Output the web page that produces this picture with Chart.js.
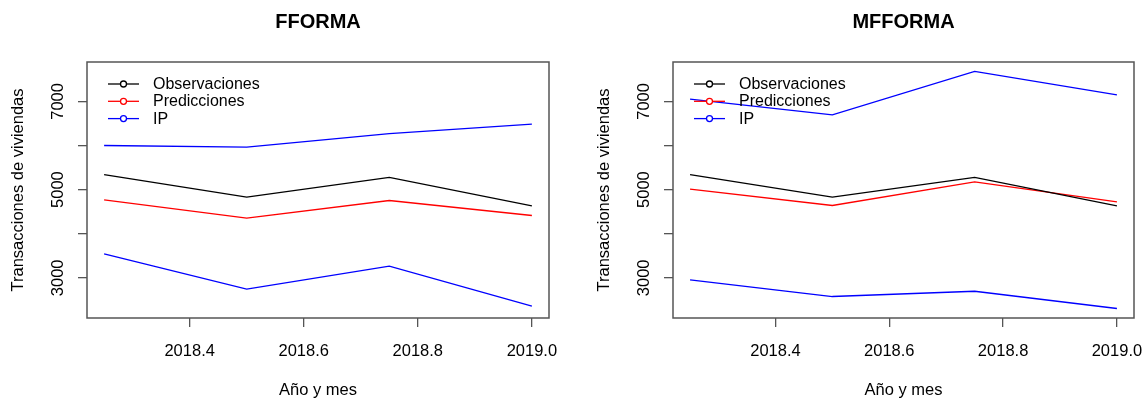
<!DOCTYPE html>
<html>
<head>
<meta charset="utf-8">
<script src="https://cdn.jsdelivr.net/npm/chart.js@4.4.1/dist/chart.umd.min.js"></script>
<style>
  html, body { margin: 0; padding: 0; background: #ffffff; }
  #wrap { position: relative; width: 1144px; height: 398px; overflow: hidden; }
  .panel { position: absolute; top: 0; width: 572px; height: 398px; }
  canvas { display: block; }
</style>
</head>
<body>
<div id="wrap">
  <div class="panel" style="left:0"><canvas id="fforma" width="572" height="398"></canvas></div>
  <div class="panel" style="left:572px"><canvas id="mfforma" width="572" height="398"></canvas></div>
</div>
<script>
// Quarterly periods (year fraction) and observed transactions
const periods = [2018.25, 2018.5, 2018.75, 2019.0];
const observaciones = [5342, 4830, 5275, 4633];

// FFORMA forecasts and prediction interval
const fformaPred = [4769, 4354, 4753, 4413];
const fformaLow = [3544, 2744, 3265, 2358];
const fformaHigh = [6000, 5964, 6268, 6485];

// MFFORMA forecasts and prediction interval
const mfformaPred = [5011, 4640, 5175, 4720];
const mfformaLow = [2955, 2576, 2695, 2304];
const mfformaHigh = [7050, 6696, 7678, 7150];

// Axis ticks
const xTicks = [2018.4, 2018.6, 2018.8, 2019.0];
const yTicks = [3000, 4000, 5000, 6000, 7000];
const yLabelled = [3000, 5000, 7000];

const FONT = "'Liberation Sans', Arial, Helvetica, sans-serif";
const AXIS_COLOR = '#555555';

// Shared limits, padded by 4% like R's default axis extension
const allValues = [].concat(observaciones, fformaPred, fformaLow, fformaHigh,
                            mfformaPred, mfformaLow, mfformaHigh);
const vMin = Math.min(...allValues), vMax = Math.max(...allValues);
const yMin = vMin - 0.04 * (vMax - vMin);
const yMax = vMax + 0.04 * (vMax - vMin);
const pMin = Math.min(...periods), pMax = Math.max(...periods);
const xMin = pMin - 0.04 * (pMax - pMin);
const xMax = pMax + 0.04 * (pMax - pMin);

const toPoints = vals => periods.map((p, i) => ({ x: p, y: vals[i] }));

function lineSet(label, values, color) {
  return {
    label: label,
    data: toPoints(values),
    borderColor: color,
    backgroundColor: color,
    borderWidth: 1.3,
    pointRadius: 0,
    pointHoverRadius: 0,
    tension: 0,
    fill: false
  };
}

// Panel frame
const frame = {
  id: 'frame',
  afterDraw(chart) {
    const { ctx, chartArea: a } = chart;
    ctx.save();
    ctx.strokeStyle = AXIS_COLOR;
    ctx.lineWidth = 1.5;
    ctx.strokeRect(a.left, a.top, a.right - a.left, a.bottom - a.top);
    ctx.restore();
  }
};

// Panel heading, centred over the plotting area
const heading = {
  id: 'heading',
  afterDraw(chart, args, opts) {
    const { ctx, chartArea: a } = chart;
    ctx.save();
    ctx.font = 'bold 20px ' + FONT;
    ctx.fillStyle = '#000';
    ctx.textAlign = 'center';
    ctx.textBaseline = 'middle';
    ctx.fillText(opts.text, (a.left + a.right) / 2, 22.4);
    ctx.restore();
  }
};

// Borderless legend inside the top-left corner of the plot
const insetLegend = {
  id: 'insetLegend',
  afterDatasetsDraw(chart) {
    const { ctx, chartArea: a } = chart;
    const seen = new Set();
    const items = [];
    chart.data.datasets.forEach(ds => {
      if (!seen.has(ds.label)) { seen.add(ds.label); items.push(ds); }
    });
    ctx.save();
    ctx.font = '16px ' + FONT;
    ctx.textBaseline = 'middle';
    ctx.textAlign = 'left';
    items.forEach((ds, i) => {
      const y = a.top + 22 + i * 17.3;
      ctx.strokeStyle = ds.borderColor;
      ctx.lineWidth = 1.3;
      ctx.beginPath();
      ctx.moveTo(a.left + 21, y);
      ctx.lineTo(a.left + 52, y);
      ctx.stroke();
      ctx.beginPath();
      ctx.arc(a.left + 36.5, y, 3, 0, Math.PI * 2);
      ctx.fillStyle = '#fff';
      ctx.fill();
      ctx.stroke();
      ctx.fillStyle = '#000';
      ctx.fillText(ds.label, a.left + 66, y + 0.5);
    });
    ctx.restore();
  }
};

function makePanel(canvasId, title, pred, low, high, padLeft, padRight) {
  return new Chart(document.getElementById(canvasId), {
    type: 'line',
    data: {
      datasets: [
        lineSet('Observaciones', observaciones, '#000000'),
        lineSet('Predicciones', pred, '#ff0000'),
        lineSet('IP', low, '#0000ff'),
        lineSet('IP', high, '#0000ff')
      ]
    },
    options: {
      responsive: false,
      devicePixelRatio: 1,
      animation: false,
      events: [],
      layout: { padding: { top: 62, left: padLeft, right: padRight, bottom: 0 } },
      plugins: {
        legend: { display: false },
        tooltip: { enabled: false },
        heading: { text: title }
      },
      scales: {
        x: {
          type: 'linear',
          position: 'bottom',
          min: xMin,
          max: xMax,
          afterBuildTicks: s => { s.ticks = xTicks.map(v => ({ value: v })); },
          afterFit: s => { s.height = 80; s.paddingLeft = 0; s.paddingRight = 0; },
          grid: { drawOnChartArea: false, drawTicks: true, tickLength: 9, color: AXIS_COLOR, lineWidth: 1.3 },
          border: { display: false },
          ticks: {
            autoSkip: false,
            maxRotation: 0,
            minRotation: 0,
            padding: 14.5,
            color: '#000',
            font: { family: FONT, size: 16.5 },
            callback: v => Number(v).toFixed(1)
          },
          title: {
            display: true,
            text: 'Año y mes',
            color: '#000',
            font: { family: FONT, size: 16.5, lineHeight: 1 },
            padding: { top: 0, bottom: -1 }
          }
        },
        y: {
          type: 'linear',
          position: 'left',
          min: yMin,
          max: yMax,
          afterBuildTicks: s => { s.ticks = yTicks.map(v => ({ value: v })); },
          afterFit: s => { s.width = 87; s.paddingTop = 0; s.paddingBottom = 0; },
          grid: { drawOnChartArea: false, drawTicks: true, tickLength: 9, color: AXIS_COLOR, lineWidth: 1.3 },
          border: { display: false },
          ticks: {
            autoSkip: false,
            minRotation: 90,
            maxRotation: 90,
            crossAlign: 'center',
            padding: 1.5,
            color: '#000',
            font: { family: FONT, size: 16.5 },
            callback: v => (yLabelled.includes(v) ? String(v) : '')
          },
          title: {
            display: true,
            text: 'Transacciones de viviendas',
            color: '#000',
            font: { family: FONT, size: 16.5, lineHeight: 1 },
            padding: { top: 10.25, bottom: 0 }
          }
        }
      }
    },
    plugins: [frame, heading, insetLegend]
  });
}

makePanel('fforma', 'FFORMA', fformaPred, fformaLow, fformaHigh, 0, 23);
makePanel('mfforma', 'MFFORMA', mfformaPred, mfformaLow, mfformaHigh, 14, 10);
</script>
</body>
</html>
